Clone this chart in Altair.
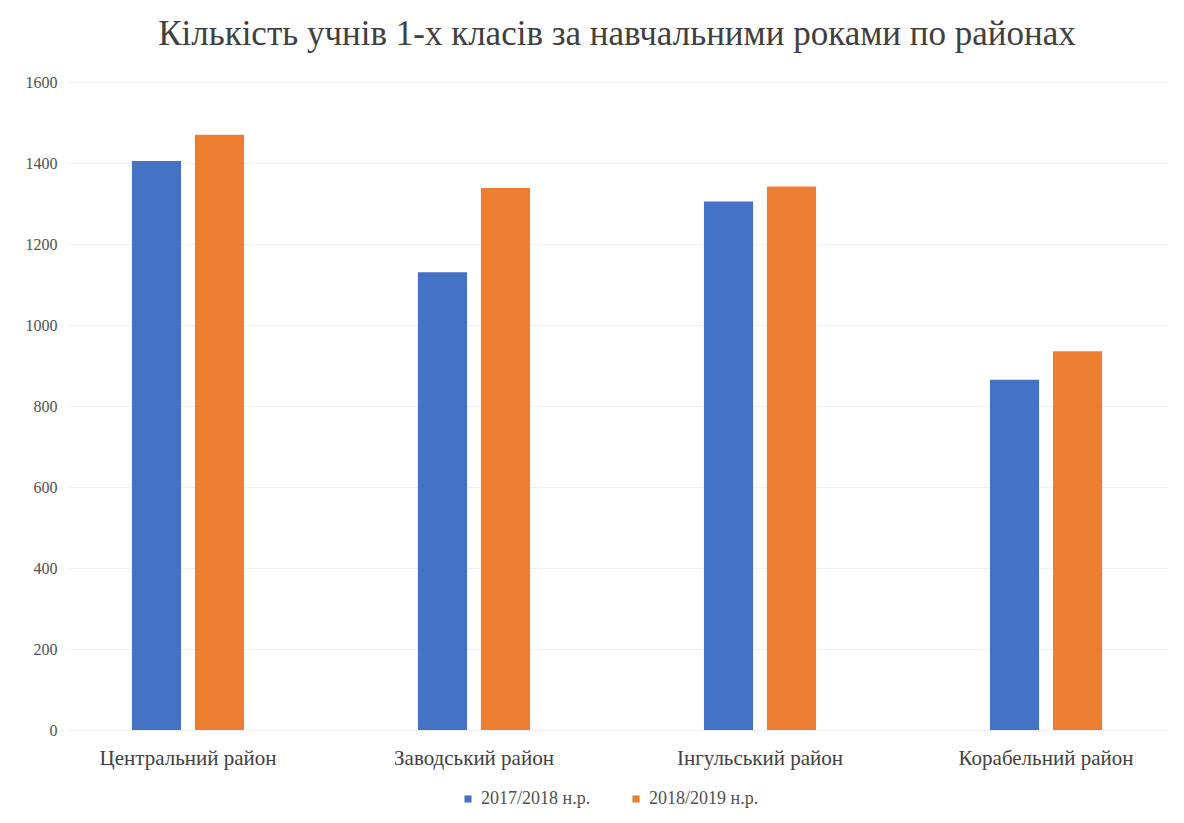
import altair as alt
import pandas as pd

districts = ["Центральний район", "Заводський район", "Інгульський район", "Корабельний район"]
years = ["2017/2018 н.р.", "2018/2019 н.р."]
values_2017 = [1405, 1130, 1305, 865]
values_2018 = [1470, 1338, 1342, 935]

rows = []
for d, a, b in zip(districts, values_2017, values_2018):
    rows.append({"district": d, "year": years[0], "value": a})
    rows.append({"district": d, "year": years[1], "value": b})
df = pd.DataFrame(rows)

FONT = "Liberation Serif"

chart = alt.Chart(df).mark_bar().encode(
    x=alt.X("district:N", sort=districts, title=None,
            scale=alt.Scale(paddingInner=0.608, paddingOuter=0.227),
            axis=alt.Axis(labelAngle=0, labelFont=FONT, labelFontSize=21, labelColor="#404040",
                          labelPadding=17, ticks=False, domain=False, grid=False)),
    xOffset=alt.XOffset("year:N", sort=years, scale=alt.Scale(paddingInner=0.22, paddingOuter=0)),
    y=alt.Y("value:Q", title=None,
            scale=alt.Scale(domain=[0, 1600]),
            axis=alt.Axis(values=[0, 200, 400, 600, 800, 1000, 1200, 1400, 1600], format="d",
                          labelFont=FONT, labelFontSize=16, labelColor="#505050", labelPadding=10,
                          ticks=False, domain=False, grid=True, gridColor="#f0f0f0")),
    color=alt.Color("year:N", sort=years, title=None,
                    scale=alt.Scale(domain=years, range=["#4472C4", "#ED7D31"]),
                    legend=alt.Legend(orient="none", legendX=392, legendY=708,
                                      direction="horizontal", symbolType="square",
                                      symbolSize=50, labelFont=FONT, labelFontSize=18,
                                      labelColor="#505050", columnPadding=36)),
).properties(
    width=1100,
    height=648,
    padding={"left": 17, "top": 9, "right": 5, "bottom": 5},
    title=alt.TitleParams("Кількість учнів 1-х класів за навчальними роками по районах",
                          font=FONT, fontSize=35, fontWeight="normal", color="#404040",
                          anchor="middle", offset=22),
).configure_view(stroke=None)

chart.save("out.html", embed_options={"renderer": "svg", "actions": False})
